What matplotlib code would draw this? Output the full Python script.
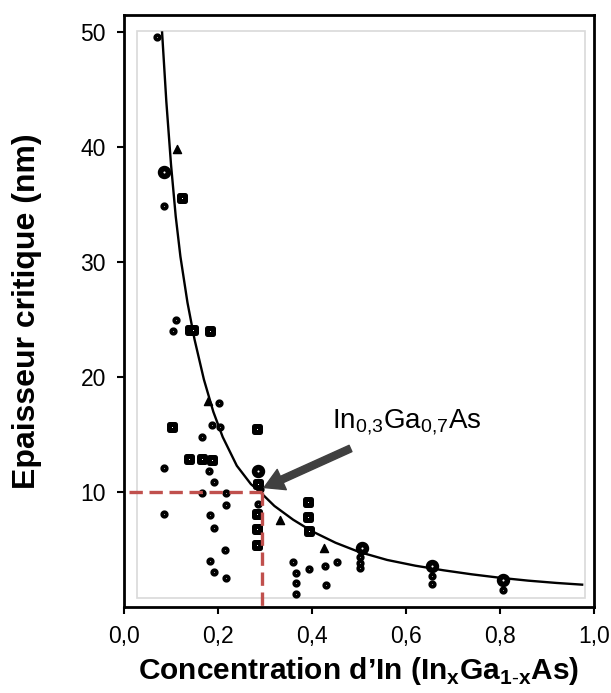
import matplotlib
matplotlib.use("Agg")
import matplotlib.pyplot as plt
from matplotlib.patches import Rectangle

plt.rcParams['font.family'] = ['Liberation Sans', 'DejaVu Sans']
plt.rcParams['mathtext.fontset'] = 'custom'
plt.rcParams['mathtext.rm'] = 'Liberation Sans'
plt.rcParams['mathtext.bf'] = 'Liberation Sans:bold'

# fitted curve
curve_x = [0.081, 0.09, 0.10, 0.11, 0.12, 0.135, 0.15, 0.17, 0.19, 0.21, 0.24, 0.27, 0.29,
           0.32, 0.36, 0.40, 0.45, 0.50, 0.56, 0.62, 0.68, 0.74, 0.80, 0.86, 0.92, 0.975]
curve_y = [50.0, 44.0, 38.5, 34.0, 30.5, 26.5, 23.3, 19.8, 17.0, 14.8, 12.3, 10.7, 10.0,
           8.8, 7.6, 6.6, 5.6, 4.8, 4.1, 3.6, 3.2, 2.85, 2.55, 2.3, 2.1, 1.95]

# small circles
circ_x = [0.070, 0.084, 0.110, 0.105, 0.165, 0.086, 0.180, 0.192, 0.167, 0.216, 0.217, 0.286,
          0.086, 0.183, 0.191, 0.215, 0.183, 0.192, 0.217, 0.360, 0.366, 0.366, 0.366, 0.394,
          0.428, 0.454, 0.430, 0.502, 0.502, 0.502, 0.655, 0.655, 0.806, 0.188, 0.204, 0.203, 0.289]
circ_y = [49.6, 34.9, 25.0, 24.0, 14.8, 12.1, 11.8, 10.9, 9.9, 9.9, 8.9, 9.0,
          8.1, 8.05, 6.9, 5.0, 4.05, 3.05, 2.5, 3.9, 3.0, 2.1, 1.15, 3.35,
          3.55, 3.9, 1.95, 4.35, 3.85, 3.4, 2.7, 2.0, 1.5, 15.8, 15.7, 17.8, 10.3]

# large circles
big_x = [0.086, 0.286, 0.506, 0.655, 0.806]
big_y = [37.9, 11.8, 5.15, 3.6, 2.35]

# squares
sq_x = [0.123, 0.140, 0.147, 0.184, 0.103, 0.284, 0.139, 0.167, 0.187, 0.286, 0.284, 0.284,
        0.284, 0.392, 0.392, 0.394]
sq_y = [35.6, 24.1, 24.1, 24.0, 15.7, 15.5, 12.9, 12.9, 12.8, 10.7, 8.1, 6.75,
        5.4, 9.15, 7.8, 6.65]

# triangles
tri_x = [0.112, 0.178, 0.332, 0.426]
tri_y = [39.9, 17.9, 7.6, 5.1]

fig = plt.figure(figsize=(6.11, 6.93), dpi=100)
ax = fig.add_axes([0.203, 0.124, 0.769, 0.854])

# light grey plot area frame
ax.add_patch(Rectangle((0.028, 0.76), 0.953, 49.4, fill=False, edgecolor='#d9d9d9',
                       linewidth=1.2, zorder=0))

ax.plot(curve_x, curve_y, color='black', linewidth=1.7, zorder=3)

ax.scatter(circ_x, circ_y, marker='o', s=11, facecolor='white', edgecolor='black',
           linewidths=2.6, zorder=4)
ax.scatter(big_x, big_y, marker='o', s=32, facecolor='white', edgecolor='black',
           linewidths=4, zorder=4)
ax.scatter(sq_x, sq_y, marker='s', s=22, facecolor='white', edgecolor='black',
           linewidths=3.6, zorder=4)
ax.scatter(tri_x, tri_y, marker='^', s=34, facecolor='black', edgecolor='black',
           linewidths=1, zorder=4)

# dashed guide at In0.3
red = '#c0504d'
ax.plot([0.01, 0.293], [10, 10], color=red, linewidth=2.4, dashes=(4, 2), zorder=5)
ax.plot([0.293, 0.293], [10, -0.3], color=red, linewidth=2.4, dashes=(4, 2), zorder=5,
        clip_on=False)

ax.annotate('', xy=(0.298, 10.4), xytext=(0.482, 13.8),
            arrowprops=dict(facecolor='#404040', edgecolor='#404040', width=5,
                            headwidth=16, headlength=14, shrink=0), zorder=6)
ax.text(0.443, 15.5, r'In$_{\mathrm{0{,}3}}$Ga$_{\mathrm{0{,}7}}$As', fontsize=20,
        ha='left', va='baseline')

ax.set_xlim(0, 1)
ax.set_ylim(0, 51.5)
ax.set_xticks([0, 0.2, 0.4, 0.6, 0.8, 1.0])
ax.set_xticklabels(['0,0', '0,2', '0,4', '0,6', '0,8', '1,0'])
ax.set_yticks([10, 20, 30, 40, 50])
ax.tick_params(axis='both', labelsize=16.5, width=1.5, length=5, pad=8, direction='out')
for s in ax.spines.values():
    s.set_linewidth(2)

ax.set_xlabel(r'Concentration d’In (In$_{\mathbf{x}}$Ga$_{\mathbf{1\text{-}x}}$As)',
              fontsize=21.5, fontweight='bold', labelpad=5)
ax.set_ylabel('Epaisseur critique (nm)', fontsize=23, fontweight='bold', labelpad=28)

fig.savefig('out.png', dpi=100)
